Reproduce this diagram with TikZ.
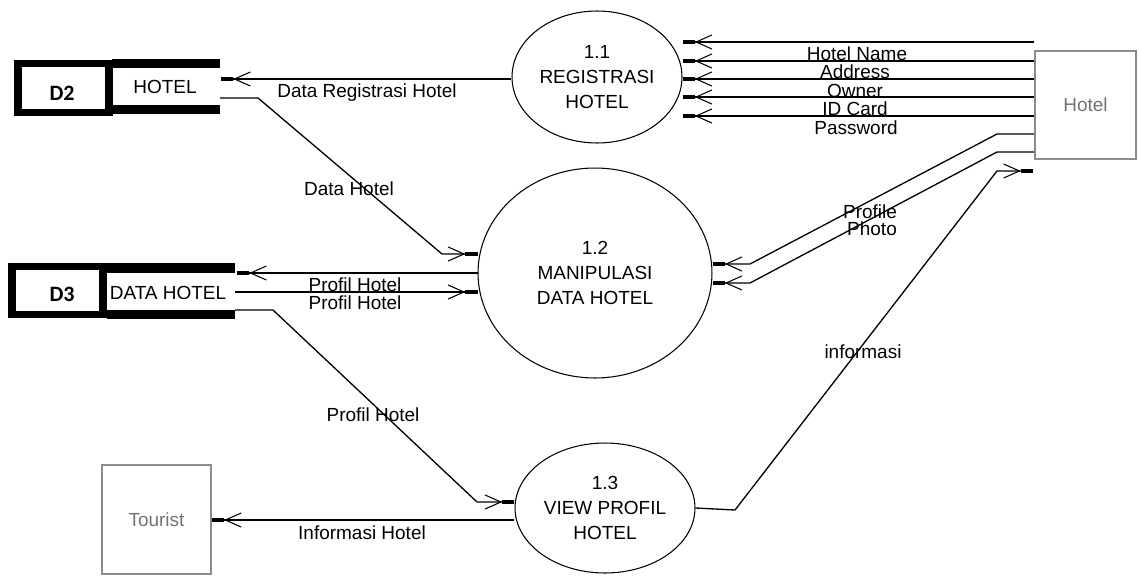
\documentclass[tikz,border=0pt]{standalone}
\usepackage{fontspec}
\setmainfont{Liberation Sans}
\newfontfamily\idfont{Carlito}
\usetikzlibrary{shapes, arrows.meta, positioning}

\tikzset{
  vtip/.tip={Straight Barb[length=9pt,width=8pt,line width=0.6pt,sep=0pt] Rectangle[length=7pt,width=2.6pt,sep=0pt]},
  flujo/.style={draw, line width=0.75pt, -vtip},
  proceso/.style={ellipse, draw, line width=0.6pt, align=center, inner sep=0pt,
    font=\fontsize{10.8}{14.2}\selectfont},
  entidad/.style={draw=black!45, text=black!55, line width=0.9pt, inner sep=0pt,
    minimum width=2.18cm, minimum height=2.18cm},
  almacen/.style={draw, line width=4pt, inner sep=0pt, minimum width=1.82cm, minimum height=0.97cm},
  codigo/.style={font=\idfont\bfseries\fontsize{12.5}{14}\selectfont},
  etiqueta/.style={inner sep=0pt},
}

\begin{document}
\begin{tikzpicture}[x=0.02cm, y=-0.02cm, font=\fontsize{10.8}{13}\selectfont]
  \useasboundingbox (0,0) rectangle (1139,575);

  % Procesos
  \node[proceso, minimum width=3.4cm, minimum height=2.64cm] (reg) at (597,77) {1.1\\REGISTRASI\\HOTEL};
  \node[proceso, minimum width=4.68cm, minimum height=4.2cm] (manip) at (595,273) {1.2\\MANIPULASI\\DATA HOTEL};
  \node[proceso, minimum width=3.6cm, minimum height=2.6cm] (view) at (605,508) {1.3\\VIEW PROFIL\\HOTEL};

  % Entidades externas
  \node[entidad, minimum width=2.02cm, minimum height=2.16cm] (hotel) at (1085.5,105) {Hotel};
  \node[entidad] (tourist) at (156.5,519.5) {Tourist};

  % Almacenes de datos
  \node[almacen] (d2) at (63.5,88) {};
  \node[codigo] (d2id) at (62,93) {D2};
  \fill (112,59) rectangle (220,68);
  \fill (112,105) rectangle (220,114);
  \node (d2name) at (165,87) {HOTEL};
  \coordinate (d2a) at (221,79);
  \coordinate (d2b) at (220,98);

  \node[almacen] (d3) at (57.5,290.5) {};
  \node[codigo] (d3id) at (62,294) {D3};
  \fill (107,263) rectangle (235,273);
  \fill (107,310) rectangle (235,319);
  \node (d3name) at (168,293) {DATA HOTEL};
  \coordinate (d3a) at (237,273);
  \coordinate (d3b) at (235,292);
  \coordinate (d3c) at (235,310);
  \coordinate (hotelin) at (1033,171);

  % Flujos de Hotel hacia 1.1
  \foreach \y in {42,61,79,97,116} {
    \draw[flujo] (hotel.west |- 0,\y) -- (reg.east |- 0,\y);
  }
  \node[etiqueta] (l1) at (857,54) {Hotel Name};
  \node[etiqueta] (l2) at (855,72) {Address};
  \node[etiqueta] (l3) at (855,91) {Owner};
  \node[etiqueta] (l4) at (855,109) {ID Card};
  \node[etiqueta] (l5) at (856,128) {Password};

  % Flujos de Hotel hacia 1.2
  \draw[flujo] (hotel.west |- 0,134) -- (997,134) -- (750,264) -- (manip.east |- 0,264);
  \draw[flujo] (hotel.west |- 0,152) -- (997,152) -- (750,283) -- (manip.east |- 0,283);
  \node[etiqueta] (l6) at (870,212) {Profile};
  \node[etiqueta] (l7) at (872,229) {Photo};

  % Flujos con los almacenes
  \draw[flujo] (reg.west |- 0,79) -- (d2a);
  \node[etiqueta] (l8) at (367,93) {Data Registrasi Hotel};
  \draw[flujo] (d2b) -- (258,98) -- (442,254) -- (manip.west |- 0,254);
  \node[etiqueta] (l9) at (349,189) {Data Hotel};
  \draw[flujo] (manip.west) -- (d3a);
  \draw[flujo] (d3b) -- (manip.west |- 0,292);
  \node[etiqueta] (l10) at (355,285) {Profil Hotel};
  \node[etiqueta] (l11) at (355,303) {Profil Hotel};
  \draw[flujo] (d3c) -- (273,310) -- (477,502) -- (view.west |- 0,502);
  \node[etiqueta] (l12) at (373,415) {Profil Hotel};

  % Salidas de 1.3
  \draw[flujo] (view.west |- 0,520) -- (tourist.east |- 0,520);
  \node[etiqueta] (l13) at (362,533) {Informasi Hotel};
  \draw[flujo] (view.east) -- (735,510) -- (997,171) -- (hotelin);
  \node[etiqueta] (l14) at (863,352) {informasi};
\end{tikzpicture}
\end{document}
